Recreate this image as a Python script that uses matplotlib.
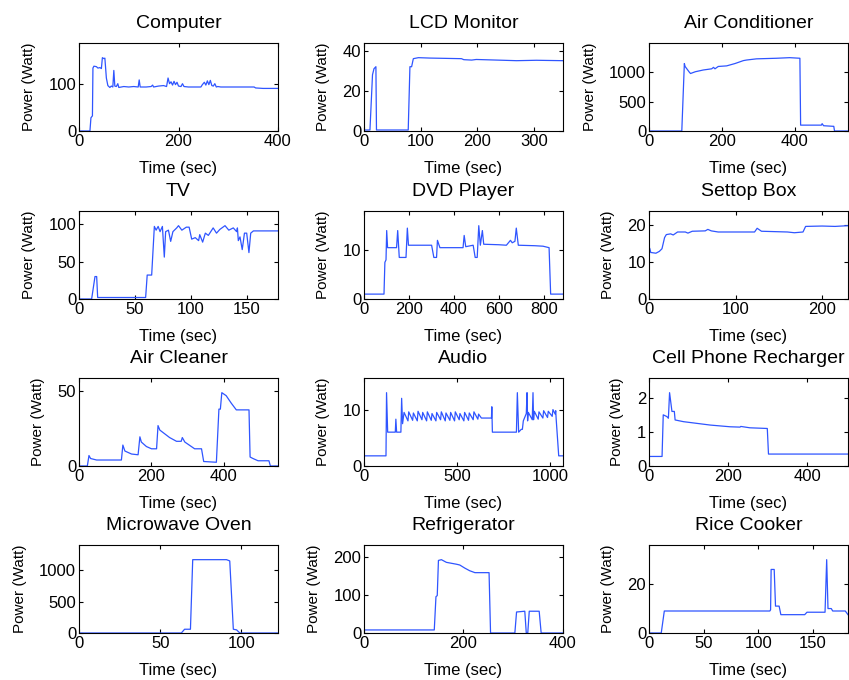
import matplotlib
matplotlib.use("Agg")
import matplotlib.pyplot as plt

plt.rcParams['font.family'] = ['Liberation Sans', 'DejaVu Sans']

titles = ["Computer", "LCD Monitor", "Air Conditioner",
          "TV", "DVD Player", "Settop Box",
          "Air Cleaner", "Audio", "Cell Phone Recharger",
          "Microwave Oven", "Refrigerator", "Rice Cooker"]

computer_t = [0, 22, 24, 27, 28, 30, 35, 38, 42, 45, 47, 50, 52, 55, 58, 62, 65, 68, 70, 72, 75, 78, 80,
              90, 100, 110, 119, 121, 123, 135, 145, 148, 150, 160, 170, 176, 179, 182, 185, 188, 191,
              194, 197, 200, 205, 208, 211, 220, 235, 245, 248, 252, 255, 258, 261, 264, 267, 270,
              273, 276, 279, 285, 300, 320, 340, 352, 355, 370, 400]
computer_p = [0, 0, 28, 32, 133, 137, 136, 133, 134, 132, 155, 153, 154, 112, 96, 92, 95, 93, 128, 95,
              94, 100, 92, 94, 93, 94, 93, 108, 93, 93, 94, 97, 93, 95, 96, 94, 112, 100, 104, 97, 105,
              98, 103, 95, 94, 100, 94, 93, 93, 93, 98, 103, 97, 106, 98, 107, 96, 95, 100, 93, 94,
              93, 93, 93, 93, 93, 91, 90, 90]

lcd_t = [0, 10.5, 15, 17.6, 21, 22, 78, 81, 84, 87, 96, 116, 172, 176, 190, 198, 234, 269, 304, 351]
lcd_p = [0.5, 0.5, 28, 31, 32, 0.5, 0.5, 32, 32, 36, 36.5, 36.3, 36, 35.5, 35.3, 35.6, 35.3, 35, 35.2, 35]

ac_t = [0, 90, 97, 99, 111, 114, 127, 149, 172, 177, 181, 190, 213, 236, 259, 268, 295, 350, 386,
        414, 416, 473, 475, 479, 505, 507, 509, 546]
ac_p = [0, 0, 1150, 1100, 1000, 980, 1010, 1040, 1060, 1085, 1060, 1100, 1110, 1150, 1200, 1210,
        1230, 1240, 1250, 1240, 100, 100, 125, 90, 80, 80, 0, 0]

tv_t = [0, 11.3, 14.3, 15.8, 16.7, 59.6, 61, 65, 67.4, 69, 70.8, 72.5, 74.6, 76.3, 77.5, 80, 82,
        84, 87.4, 89, 92, 96, 98.5, 100.8, 104, 107, 108, 110.6, 113, 115.7, 120, 123, 126, 130.6,
        134, 138, 141, 141.7, 142.5, 144, 146, 148, 150, 152, 153.6, 156, 178]
tv_p = [0, 0, 30, 30, 2, 2, 32, 32, 97, 92, 97, 90, 97, 56, 90, 92, 77, 90, 95, 98, 92, 96, 96, 80,
        82, 78, 86, 76, 88, 85, 95, 88, 93, 98, 92, 95, 90, 95, 78, 83, 66, 88, 88, 62, 88, 91, 91]

dvd_t = [0, 89, 93, 98, 101, 105, 145, 150, 157, 187, 193, 198, 301, 311, 323, 327, 338, 441, 446,
         453, 486, 495, 504, 511, 518, 527, 533, 600, 634, 652, 660, 672, 678, 687, 760, 797, 824,
         831, 886]
dvd_p = [1, 1, 7.5, 8, 14, 10.5, 10.5, 14, 8.5, 8.5, 14.5, 11, 11, 8.5, 8.5, 12, 10.5, 10.5, 13,
         10.7, 11, 8.5, 8.5, 15, 11, 14, 11.2, 11.1, 11, 12, 11.5, 11.8, 14.5, 11, 10.9, 10.8, 10.5,
         1, 1]

settop_t = [0, 1, 2, 8, 12, 15, 18, 20, 25, 28, 33, 42, 45, 50, 65, 68, 72, 80, 122, 125, 130,
            160, 168, 178, 181, 200, 215, 230]
settop_p = [14, 13.5, 12.5, 12.3, 12.8, 13.5, 16.5, 17.3, 17.5, 17.2, 18, 18, 17.7, 18.2, 18.3,
            18.7, 18.3, 18, 18, 19, 18.2, 18, 17.8, 18, 19.5, 19.6, 19.5, 19.7]

cleaner_t = [0, 23, 27.5, 32, 48.6, 117, 121, 126.6, 145, 163, 168, 172, 186, 200, 214, 218, 223,
             250, 269, 282, 285, 292, 310, 319, 338, 344, 379, 386, 390, 394, 406, 420, 434, 469,
             472, 480, 494, 524, 528, 549]
cleaner_p = [0, 0, 7, 5, 4, 4, 14, 10, 8, 7.5, 19.5, 16, 13, 11.5, 11.5, 27, 24, 19, 16.5, 16.5,
             19, 16, 13, 11.5, 11.5, 3, 2.5, 38, 38, 49, 47, 42, 37.5, 37.5, 6, 5, 3.5, 3.5, 0, 0]

audio_t = [0, 118, 121, 127, 168, 171, 175, 198, 202, 207,
           215, 236, 240, 261, 265, 286, 290, 311, 315, 336, 340, 361, 365, 386, 390, 411, 415,
           436, 440, 461, 465, 486, 490, 511, 515, 536, 540, 561, 565, 586, 590, 611, 615, 630,
           639, 684, 686, 689, 818, 823, 830, 844, 850, 855, 871, 875, 878, 882, 903, 907, 910,
           914, 935, 939, 960, 964, 985, 989, 1010, 1014, 1026, 1029, 1031, 1045, 1068]
audio_p = [1.8, 1.8, 13, 6, 6, 8.3, 6, 6, 12, 7.5,
           9.5, 8, 9.6, 8.1, 9.4, 8, 9.7, 8.2, 9.5, 8, 9.6, 8.1, 9.3, 8, 9.5, 8.2, 9.6, 8, 9.4,
           8.1, 9.5, 8, 9.6, 8.2, 9.3, 8, 9.5, 8.1, 9.4, 8.2, 9.6, 8.3, 9.2, 8.5,
           8.5, 8.5, 10.5, 6, 6, 13, 6, 6.5, 6.5, 8, 9.3, 13, 8.0, 9.5, 8.2, 13, 8.2,
           9.7, 8.3, 9.6, 8.5, 9.8, 8.6, 9.7, 8.8, 10, 9.2, 9.8, 8.5, 1.8, 1.8]

phone_t = [0, 33, 36, 45, 49, 52, 58, 64, 66, 87, 121, 155, 205, 230, 232, 255, 299, 302, 503]
phone_p = [0.28, 0.28, 1.5, 1.45, 1.4, 2.15, 1.6, 1.6, 1.35, 1.3, 1.25, 1.2, 1.15, 1.14, 1.16,
           1.12, 1.1, 0.35, 0.35]

micro_t = [0, 63, 65, 68.6, 70, 90.8, 92.8, 95, 97, 99, 122.5]
micro_p = [0, 0, 60, 60, 1170, 1170, 1150, 60, 50, 0, 0]

fridge_t = [0, 141.6, 145, 147.6, 150, 156, 166, 186.6, 193, 203, 213, 223.5, 252, 255, 304,
            307.4, 324, 327, 330, 333, 353, 357, 401]
fridge_p = [8, 8, 95, 98, 190, 192, 185, 180, 178, 170, 163, 158, 158, 0, 0, 55, 57, 0, 0, 57, 57,
            0, 0]

rice_t = [0, 11.2, 14, 110.5, 111.2, 111.7, 114.5, 115.7, 119, 120.6, 142.4, 144.5, 147, 161,
          162.5, 163.7, 166.7, 168, 179.5, 182]
rice_p = [0, 0, 9, 9, 9.5, 26, 26, 11, 11, 7.5, 7.5, 8.5, 8.5, 8.5, 30, 10, 10, 9, 9, 7.5]

series = [(computer_t, computer_p), (lcd_t, lcd_p), (ac_t, ac_p),
          (tv_t, tv_p), (dvd_t, dvd_p), (settop_t, settop_p),
          (cleaner_t, cleaner_p), (audio_t, audio_p), (phone_t, phone_p),
          (micro_t, micro_p), (fridge_t, fridge_p), (rice_t, rice_p)]

xticks = [[0, 200, 400], [0, 100, 200, 300], [0, 200, 400],
          [0, 50, 100, 150], [0, 200, 400, 600, 800], [0, 100, 200],
          [0, 200, 400], [0, 500, 1000], [0, 200, 400],
          [0, 50, 100], [0, 200, 400], [0, 50, 100, 150]]
yticks = [[0, 100], [0, 20, 40], [0, 500, 1000],
          [0, 50, 100], [0, 10], [0, 10, 20],
          [0, 50], [0, 10], [0, 1, 2],
          [0, 500, 1000], [0, 100, 200], [0, 20]]

fig = plt.figure(figsize=(8.49, 6.8), dpi=100)
W, H = 849.0, 680.0
col_left = [79, 364, 649]
row_bottom = [131, 299, 466, 633]
ax_w, ax_h = 199, 88

for i, (t, p) in enumerate(series):
    r, c = divmod(i, 3)
    ax = fig.add_axes([col_left[c] / W, 1 - row_bottom[r] / H, ax_w / W, ax_h / H])
    ax.plot(t, p, color='#2f55ff', lw=0.9)
    ax.set_xlim(0, max(t))
    ax.set_ylim(0, 1.2 * max(p))
    ax.set_xticks(xticks[i])
    ax.set_yticks(yticks[i])
    ax.tick_params(direction='in', top=True, right=True, length=3, width=0.8, labelsize=12, pad=2)
    ax.set_title(titles[i], fontsize=14, pad=11)
    ax.set_xlabel("Time (sec)", fontsize=12, labelpad=9)
    ax.set_ylabel("Power (Watt)", fontsize=11, labelpad=9)
    for s in ax.spines.values():
        s.set_linewidth(0.8)

fig.savefig("out.png", dpi=100)
